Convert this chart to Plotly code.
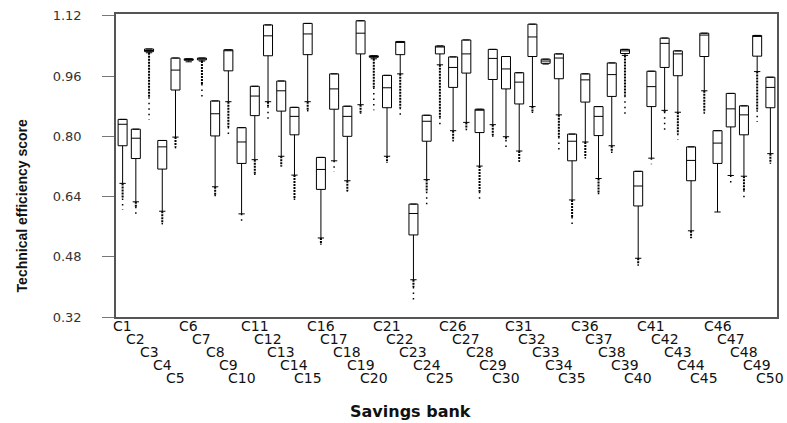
import plotly.graph_objects as go

banks = [f"C{i}" for i in range(1, 51)]

q3 = [0.845, 0.819, 1.032, 0.789, 1.008, 1.006, 1.008, 0.894, 1.030, 0.823,
      0.933, 1.096, 0.947, 0.877, 1.100, 0.744, 0.966, 0.880, 1.107, 1.014,
      0.962, 1.052, 0.620, 0.856, 1.040, 1.011, 1.056, 0.872, 1.031, 1.012,
      0.969, 1.098, 1.005, 1.019, 0.806, 0.966, 0.879, 0.995, 1.031, 0.707,
      0.973, 1.061, 1.027, 0.772, 1.074, 0.815, 0.914, 0.881, 1.068, 0.957]
median = [0.832, 0.795, 1.028, 0.772, 0.976, 1.004, 1.006, 0.860, 1.028, 0.785,
          0.907, 1.067, 0.921, 0.853, 1.072, 0.712, 0.926, 0.853, 1.074, 1.012,
          0.929, 1.050, 0.595, 0.840, 1.038, 0.983, 1.019, 0.870, 1.007, 0.979,
          0.944, 1.064, 1.000, 1.008, 0.787, 0.950, 0.853, 0.964, 1.027, 0.668,
          0.932, 1.047, 1.019, 0.736, 1.069, 0.782, 0.873, 0.857, 1.066, 0.930]
q1 = [0.775, 0.741, 1.025, 0.713, 0.923, 1.002, 1.003, 0.801, 0.974, 0.728,
      0.855, 1.014, 0.867, 0.804, 1.017, 0.659, 0.872, 0.800, 1.019, 1.010,
      0.876, 1.017, 0.538, 0.787, 1.019, 0.930, 0.968, 0.810, 0.951, 0.926,
      0.886, 1.012, 0.994, 0.953, 0.735, 0.891, 0.802, 0.906, 1.020, 0.615,
      0.879, 0.983, 0.961, 0.682, 1.012, 0.728, 0.825, 0.804, 1.013, 0.876]
lower_whisker = [0.675, 0.626, 1.022, 0.601, 0.798, 0.998, 1.000, 0.666, 0.892, 0.594,
                 0.738, 0.892, 0.747, 0.697, 0.892, 0.530, 0.735, 0.682, 0.884, 1.006,
                 0.747, 0.966, 0.419, 0.685, 0.990, 0.815, 0.837, 0.721, 0.831, 0.799,
                 0.761, 0.879, 0.992, 0.857, 0.631, 0.785, 0.688, 0.775, 1.015, 0.476,
                 0.742, 0.869, 0.864, 0.549, 0.921, 0.599, 0.696, 0.694, 0.972, 0.754]
# outliers: dense run ends at outlier_dense, sparse points reach outlier_min
outlier_dense = [0.635, 0.613, 0.904, 0.570, 0.772, 0.998, 0.939, 0.645, 0.825, 0.594,
                 0.700, 0.880, 0.720, 0.635, 0.870, 0.515, 0.735, 0.655, 0.862, 0.930,
                 0.730, 0.876, 0.400, 0.653, 0.851, 0.790, 0.820, 0.653, 0.803, 0.790,
                 0.735, 0.865, 0.992, 0.798, 0.586, 0.745, 0.650, 0.760, 0.908, 0.460,
                 0.742, 0.865, 0.807, 0.530, 0.864, 0.599, 0.696, 0.657, 0.869, 0.730]
outlier_min = [0.604, 0.585, 0.844, 0.563, 0.765, 0.998, 0.895, 0.639, 0.803, 0.573,
               0.697, 0.836, 0.719, 0.631, 0.866, 0.512, 0.705, 0.653, 0.860, 0.869,
               0.729, 0.847, 0.362, 0.615, 0.832, 0.781, 0.814, 0.631, 0.789, 0.761,
               0.732, 0.862, 0.992, 0.756, 0.557, 0.732, 0.644, 0.756, 0.860, 0.456,
               0.726, 0.811, 0.791, 0.529, 0.860, 0.599, 0.677, 0.635, 0.838, 0.727]

y_ticks = [0.32, 0.48, 0.64, 0.80, 0.96, 1.12]

pos = list(range(1, len(banks) + 1))

fig = go.Figure()
fig.add_trace(go.Box(
    x=pos, q1=q1, median=median, q3=q3,
    lowerfence=lower_whisker, upperfence=q3,
    width=0.68, whiskerwidth=0.7, boxpoints=False,
    fillcolor="white", line=dict(color="black", width=1),
    showlegend=False, hoverinfo="skip",
))

dx, dy, sx, sy = [], [], [], []
for p, lw, de, om in zip(pos, lower_whisker, outlier_dense, outlier_min):
    if de < lw:
        dx += [p, p, None]
        dy += [lw, de, None]
    if om < de:
        sx += [p, p, None]
        sy += [de, om, None]
fig.add_trace(go.Scatter(x=dx, y=dy, mode="lines", showlegend=False, hoverinfo="skip",
                         line=dict(color="black", width=2, dash="2px,1px")))
fig.add_trace(go.Scatter(x=sx, y=sy, mode="lines", showlegend=False, hoverinfo="skip",
                         line=dict(color="black", width=1.5, dash="1.5px,4px")))

label_font = dict(family="DejaVu Sans, Liberation Sans, Arial", size=14, color="#111")
for i, (p, name) in enumerate(zip(pos, banks)):
    row = i % 5
    fig.add_annotation(x=p, y=0, xref="x", yref="paper", text=name, showarrow=False,
                       xanchor="center", yanchor="middle", yshift=-(9 + 13 * row),
                       font=label_font)

fig.add_annotation(x=0.446, y=0, xref="paper", yref="paper", text="<b>Savings bank</b>",
                   showarrow=False, xanchor="center", yanchor="middle", yshift=-94,
                   font=dict(family="DejaVu Sans, Liberation Sans, Arial", size=16, color="#111"))
fig.add_annotation(x=0, y=0.365, xref="paper", yref="paper",
                   text="<b>Technical efficiency score</b>", textangle=-90,
                   showarrow=False, xanchor="center", yanchor="middle", xshift=-94,
                   font=dict(family="Liberation Sans Narrow, Arial Narrow, Liberation Sans, Arial",
                             size=14, color="#111"))

fig.update_layout(
    width=787, height=423,
    margin=dict(l=116, r=8, t=13, b=106),
    plot_bgcolor="white", paper_bgcolor="white",
    xaxis=dict(range=[0.5, 50.5], showticklabels=False, ticks="", showgrid=False,
               zeroline=False, showline=True, mirror=True, linecolor="#555", linewidth=1.5),
    yaxis=dict(range=[0.32, 1.125], tickvals=y_ticks,
               ticktext=[f"{v:.2f}" for v in y_ticks],
               ticks="outside", ticklen=12, tickcolor="#777", tickwidth=1,
               ticklabelstandoff=18,
               tickfont=dict(family="DejaVu Sans, Liberation Sans, Arial", size=13, color="#333"),
               showgrid=False, zeroline=False, showline=True, mirror=True,
               linecolor="#555", linewidth=1.5),
)

fig.write_html("out.html", config={"displayModeBar": False},
               post_script="document.body.style.margin='0';document.body.style.overflow='hidden';")
